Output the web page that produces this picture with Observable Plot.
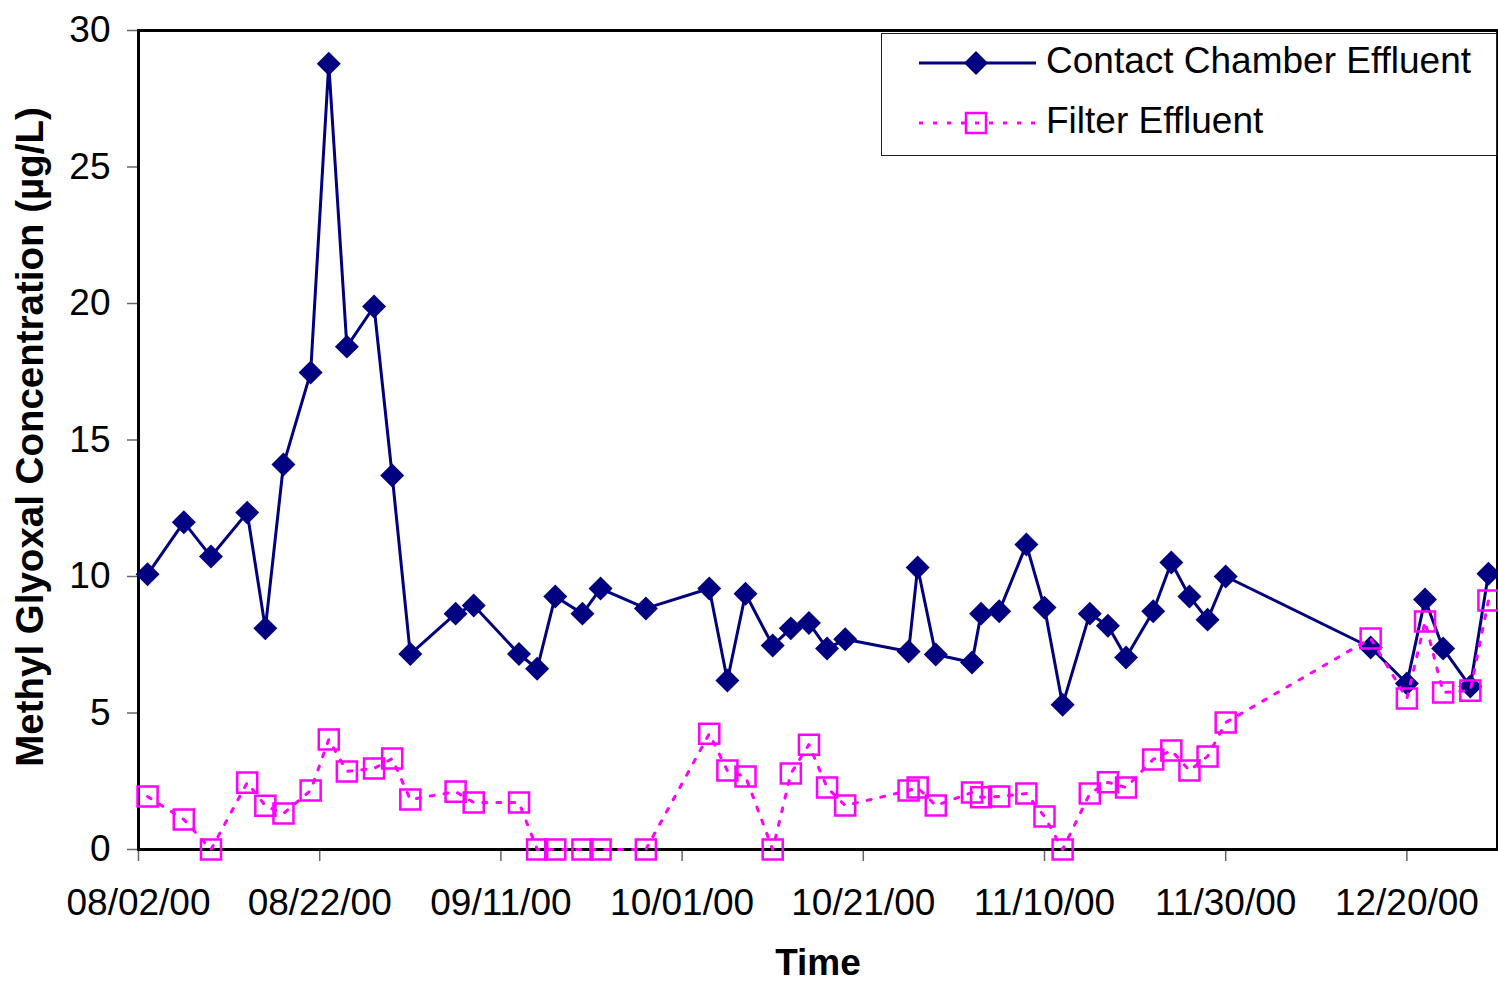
<!DOCTYPE html>
<html><head><meta charset="utf-8">
<script src="https://cdn.jsdelivr.net/npm/d3@7"></script>
<script src="https://cdn.jsdelivr.net/npm/@observablehq/plot@0.6"></script>
<style>
html,body{margin:0;padding:0;background:#fff;}
#wrap{position:relative;width:1498px;height:981px;overflow:hidden;}
#legend{position:absolute;left:881px;top:33px;width:614px;height:121px;border:1.5px solid #222;background:#fff;}
#legend svg{position:absolute;left:0;top:0;}
</style></head><body><div id="wrap"></div>
<script>
const dates = ["2000-08-03","2000-08-07","2000-08-10","2000-08-14","2000-08-16","2000-08-18","2000-08-21","2000-08-23","2000-08-25","2000-08-28","2000-08-30","2000-09-01","2000-09-06","2000-09-08","2000-09-13","2000-09-15","2000-09-17","2000-09-20","2000-09-22","2000-09-27","2000-10-04","2000-10-06","2000-10-08","2000-10-11","2000-10-13","2000-10-15","2000-10-17","2000-10-19","2000-10-26","2000-10-27","2000-10-29","2000-11-02","2000-11-03","2000-11-05","2000-11-08","2000-11-10","2000-11-12","2000-11-15","2000-11-17","2000-11-19","2000-11-22","2000-11-24","2000-11-26","2000-11-28","2000-11-30","2000-12-16","2000-12-20","2000-12-22","2000-12-24","2000-12-27","2000-12-29"];
const contactChamber = [10.08,11.99,10.73,12.34,8.1,14.1,17.47,28.78,18.42,19.89,13.7,7.16,8.64,8.94,7.16,6.62,9.27,8.64,9.56,8.83,9.56,6.19,9.37,7.47,8.1,8.3,7.36,7.7,7.25,10.33,7.14,6.85,8.64,8.73,11.17,8.86,5.3,8.64,8.2,7.03,8.73,10.51,9.27,8.42,10.0,7.4,6.08,9.16,7.36,5.97,10.1];
const filterEffluent = [1.94,1.1,0,2.45,1.6,1.32,2.16,4.03,2.86,2.97,3.33,1.83,2.12,1.72,1.72,0,0,0,0,0,4.24,2.89,2.67,0,2.78,3.84,2.27,1.61,2.16,2.27,1.61,2.09,1.91,1.94,2.05,1.21,0,2.05,2.46,2.27,3.3,3.63,2.89,3.41,4.65,7.73,5.53,8.35,5.75,5.82,9.12];
const xTickLabels = ["08/02/00","08/22/00","09/11/00","10/01/00","10/21/00","11/10/00","11/30/00","12/20/00"];
const yTicks = [0,5,10,15,20,25,30];
const xDomain = ["2000-08-02","2000-12-30"];
const seriesNames = ["Contact Chamber Effluent","Filter Effluent"];
const seriesColors = ["#000080","#FF00FF"];
const xTitle = "Time";
const yTitle = "Methyl Glyoxal Concentration (\u00b5g/L)";

const FONT = '"Liberation Sans", Arial, sans-serif';
const parseISO = d3.utcParse("%Y-%m-%d");
const parseTick = d3.utcParse("%m/%d/%y");
const fmtTick = d3.utcFormat("%m/%d/%y");
const rows = dates.map((d, i) => ({date: parseISO(d), contact: contactChamber[i], filter: filterEffluent[i]}));

const chart = Plot.plot({
  width: 1498, height: 981,
  marginLeft: 138, marginRight: 1, marginTop: 30, marginBottom: 132,
  style: {fontFamily: FONT, fontSize: "37px", color: "#000", background: "#fff", overflow: "visible"},
  x: {type: "utc", domain: xDomain.map(parseISO)},
  y: {domain: [0, 30]},
  marks: [
    Plot.axisY({ticks: yTicks, tickSize: 11, tickPadding: 17, stroke: "#666", strokeWidth: 1.5, label: null, fontSize: 37}),
    Plot.axisX({ticks: xTickLabels.map(parseTick), tickFormat: fmtTick, tickSize: 12, tickPadding: 27, stroke: "#666", strokeWidth: 1.5, label: null, fontSize: 37}),
    Plot.frame({stroke: "#000", strokeWidth: 3}),
    Plot.line(rows, {x: "date", y: "contact", stroke: seriesColors[0], strokeWidth: 3}),
    Plot.dot(rows, {x: "date", y: "contact", symbol: "diamond2", r: 10.8, fill: seriesColors[0], stroke: "none"}),
    Plot.line(rows, {x: "date", y: "filter", stroke: seriesColors[1], strokeWidth: 3, strokeDasharray: "4,10"}),
    Plot.dot(rows, {x: "date", y: "filter", symbol: "square", r: 11.3, fill: "none", stroke: seriesColors[1], strokeWidth: 2.5}),
    Plot.text([xTitle], {frameAnchor: "bottom", dy: 125, text: d => d, fontWeight: "bold", fontSize: 37}),
    Plot.text([yTitle], {frameAnchor: "left", dx: -108, dy: -3, rotate: -90, textAnchor: "middle", text: d => d, fontWeight: "bold", fontSize: 38.5})
  ]
});
const wrap = document.getElementById("wrap");
wrap.appendChild(chart);

// legend
const leg = document.createElement("div");
leg.id = "legend";
wrap.appendChild(leg);
const svg = d3.select(leg).append("svg").attr("width", 614).attr("height", 121)
  .style("font-family", FONT).style("font-size", "37px");
const rowsY = [29, 89];
seriesNames.forEach((name, i) => {
  const g = svg.append("g").attr("transform", `translate(0,${rowsY[i]})`);
  g.append("line").attr("x1", 37).attr("x2", 154).attr("y1", 0).attr("y2", 0)
    .attr("stroke", seriesColors[i]).attr("stroke-width", 3)
    .attr("stroke-dasharray", i === 1 ? "4,10" : null);
  const sym = i === 0 ? d3.symbolDiamond2 : d3.symbolSquare;
  const size = i === 0 ? 10.8 * 10.8 * Math.PI : 11.3 * 11.3 * Math.PI;
  g.append("path").attr("transform", "translate(94,0)").attr("d", d3.symbol(sym, size)())
    .attr("fill", i === 0 ? seriesColors[i] : "none")
    .attr("stroke", i === 0 ? "none" : seriesColors[i]).attr("stroke-width", 2.5);
  g.append("text").attr("x", 164).attr("y", 10).text(name).attr("fill", "#000");
});
</script>
</body></html>
